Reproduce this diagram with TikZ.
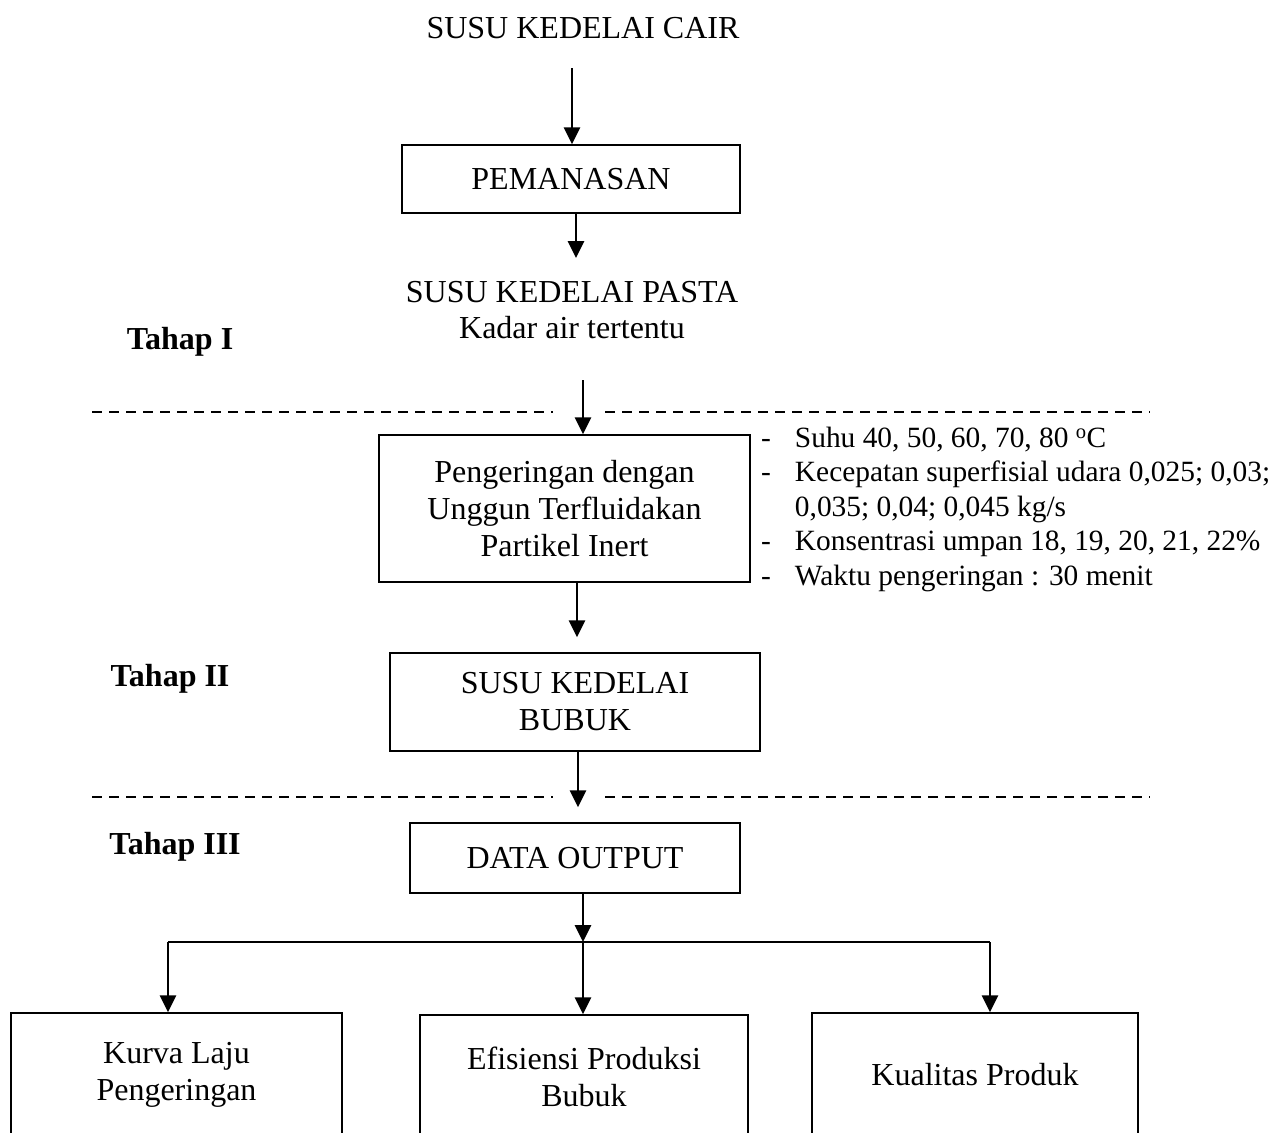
\documentclass[tikz,border=0pt]{standalone}
\usepackage{fontspec}
\setmainfont{Liberation Serif}
\usetikzlibrary{arrows.meta,calc}
\begin{document}
\begin{tikzpicture}[x=1pt,y=-1pt,
  every node/.style={font=\fontsize{32}{37}\selectfont, inner sep=0pt},
  boxnode/.style={draw, line width=1.4pt, align=center},
  arr/.style={line width=2.8pt, -{Triangle[length=17pt,width=16pt]}},
  plainline/.style={line width=2.8pt},
  sep/.style={line width=1.8pt, dash pattern=on 10pt off 7pt},
  tahap/.style={font=\fontsize{32}{37}\selectfont\bfseries}]
\useasboundingbox (0,0) rectangle (1283,1133);
\clip (0,0) rectangle (1283,1133);

% texts
\node (cair) at (583,28) {SUSU KEDELAI CAIR};
\node[boxnode, minimum width=338pt, minimum height=68pt] (pem) at (571,179) {PEMANASAN};
\node[align=center, font=\fontsize{32}{36}\selectfont] (pasta) at (572,310) {SUSU KEDELAI PASTA\\Kadar air tertentu};
\node[tahap] (t1) at (180,342) {Tahap I};
\node[boxnode, minimum width=371pt, minimum height=147pt, font=\fontsize{32}{37}\selectfont] (peng) at (564.5,508.5) {Pengeringan dengan\\Unggun Terfluidakan\\Partikel Inert};
\node[anchor=north west, align=left, font=\fontsize{29.4}{34.5}\selectfont] (param) at (761,423)
  {\begin{tabular}{@{}l@{\hspace{24pt}}l@{}}
   - & Suhu 40, 50, 60, 70, 80 \textsuperscript{o}C\\
   - & Kecepatan superfisial udara 0,025; 0,03;\\
     & 0,035; 0,04; 0,045 kg/s\\
   - & Konsentrasi umpan 18, 19, 20, 21, 22\%\\
   - & Waktu pengeringan : 30 menit
   \end{tabular}};
\node[tahap] (t2) at (170,679) {Tahap II};
\node[boxnode, minimum width=370pt, minimum height=98pt] (bubuk) at (575,702) {SUSU KEDELAI\\BUBUK};
\node[tahap] (t3) at (175,847) {Tahap III};
\node[boxnode, minimum width=330pt, minimum height=70pt] (data) at (575,858) {DATA OUTPUT};

\node[boxnode, minimum width=331pt, minimum height=124pt] (kurva) at (176.5,1075) {Kurva Laju\\Pengeringan};
\node[boxnode, minimum width=328pt, minimum height=124pt] (efis) at (584,1077) {Efisiensi Produksi\\Bubuk};
\node[boxnode, minimum width=326pt, minimum height=124pt] (kual) at (975,1075) {Kualitas Produk};

% separators
\coordinate (d1a) at (92,412); \coordinate (d1b) at (553,412);
\coordinate (d1c) at (605,412); \coordinate (d1d) at (1150,412);
\coordinate (d2a) at (92,797); \coordinate (d2b) at (553,797);
\coordinate (d2c) at (605,797); \coordinate (d2d) at (1150,797);
\draw[sep] (d1a) -- (d1b);
\draw[sep] (d1c) -- (d1d);
\draw[sep] (d2a) -- (d2b);
\draw[sep] (d2c) -- (d2d);

% connectors
\coordinate (a1) at (572,68);
\draw[arr] (a1) -- (a1 |- pem.north);
\coordinate (a2s) at (576,213);
\coordinate (a2e) at (576,258);
\draw[arr] (a2s |- pem.south) -- (a2e);
\coordinate (a3) at (583,380);
\draw[arr] (a3) -- (a3 |- peng.north);
\coordinate (a4) at (577,582);
\draw[arr, shorten >=15pt] (a4 |- peng.south) -- (a4 |- bubuk.north);
\coordinate (a5) at (578,750);
\draw[arr, shorten >=15pt] (a5 |- bubuk.south) -- (a5 |- data.north);
\coordinate (bus) at (583,942);
\coordinate (busL) at (168,942);
\coordinate (busR) at (990,942);
\draw[arr] (bus |- data.south) -- (bus);
\draw[plainline] (busL) -- (busR);
\draw[arr] (busL) -- (busL |- kurva.north);
\draw[arr] (bus) -- (bus |- efis.north);
\draw[arr] (busR) -- (busR |- kual.north);
\end{tikzpicture}
\end{document}
